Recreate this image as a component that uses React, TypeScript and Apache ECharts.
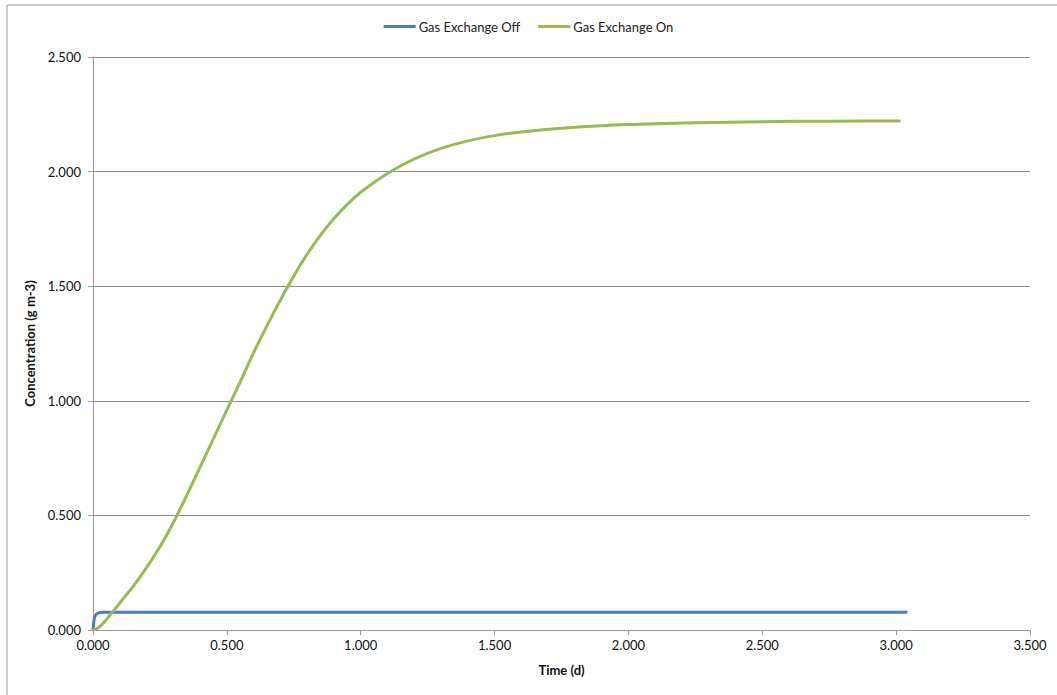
import React, { useEffect, useRef } from "react";
import * as echarts from "echarts";

// Time (d) and concentration (g m-3) for the run without gas exchange
const offTime = [0, 0.004, 0.008, 0.014, 0.02, 0.027, 0.04, 0.1, 0.5, 1.0, 1.5, 2.0, 2.5, 3.0, 3.042];
const offConc = [0, 0.045, 0.062, 0.07, 0.074, 0.076, 0.077, 0.077, 0.077, 0.077, 0.077, 0.077, 0.077, 0.077, 0.077];

// Time (d) and concentration (g m-3) for the run with gas exchange
const onTime = [
  0, 0.02, 0.04, 0.06, 0.1, 0.15, 0.2, 0.25, 0.3, 0.35, 0.4, 0.45, 0.5, 0.55, 0.6, 0.65, 0.7, 0.75, 0.8,
  0.85, 0.9, 0.95, 1.0, 1.1, 1.2, 1.3, 1.4, 1.5, 1.6, 1.8, 2.0, 2.25, 2.5, 2.75, 3.016,
];
const onConc = [
  0, 0.01, 0.032, 0.06, 0.118, 0.19, 0.272, 0.363, 0.468, 0.587, 0.711, 0.835, 0.96, 1.083, 1.21, 1.328, 1.44,
  1.545, 1.64, 1.723, 1.795, 1.857, 1.91, 1.992, 2.055, 2.101, 2.134, 2.157, 2.173, 2.193, 2.205, 2.213,
  2.218, 2.22, 2.221,
];

const seriesNames = ["Gas Exchange Off", "Gas Exchange On"];
const seriesColors = ["#4A7EBB", "#98B954"];

const xTitle = "Time (d)";
const yTitle = "Concentration (g m-3)";

const FONT = "Lato, 'Open Sans', sans-serif";

export default function App() {
  const ref = useRef<HTMLDivElement>(null);

  useEffect(() => {
    if (!ref.current) return;
    const chart = echarts.init(ref.current, null, { renderer: "svg" });
    const pair = (t: number[], v: number[]) => t.map((x, i) => [x, v[i]]);
    const fmt = (v: number) => v.toFixed(3);

    chart.setOption({
      animation: false,
      backgroundColor: "#ffffff",
      textStyle: { fontFamily: FONT },
      graphic: [
        {
          type: "rect",
          shape: { x: 7, y: 5, width: 1200, height: 900 },
          style: { fill: "none", stroke: "#9a9a9a", lineWidth: 1 },
          silent: true,
        },
      ],
      legend: {
        top: 15,
        left: "center",
        icon: "rect",
        itemWidth: 32,
        itemHeight: 3,
        itemGap: 18,
        textStyle: { fontSize: 13, color: "#222", fontFamily: FONT, padding: [0, 0, 0, -2] },
        data: seriesNames,
      },
      grid: { left: 93, right: 27, top: 57, bottom: 65, containLabel: false },
      xAxis: {
        type: "value",
        min: 0,
        max: 3.5,
        interval: 0.5,
        name: xTitle,
        nameLocation: "middle",
        nameGap: 33,
        nameTextStyle: { fontSize: 13, fontWeight: "bold", color: "#111", fontFamily: FONT },
        axisLine: { show: true, lineStyle: { color: "#9a9a9a", width: 1 } },
        axisTick: { show: true, length: 5, inside: false, lineStyle: { color: "#9a9a9a" } },
        axisLabel: { formatter: fmt, fontSize: 13, color: "#111", margin: 8, fontFamily: FONT },
        splitLine: { show: false },
      },
      yAxis: {
        type: "value",
        min: 0,
        max: 2.5,
        interval: 0.5,
        name: yTitle,
        nameLocation: "middle",
        nameGap: 51,
        nameRotate: 90,
        nameTextStyle: { fontSize: 13, fontWeight: "bold", color: "#111", fontFamily: FONT },
        axisLine: { show: true, lineStyle: { color: "#9a9a9a", width: 1 } },
        axisTick: { show: true, length: 5, inside: false, lineStyle: { color: "#9a9a9a" } },
        axisLabel: { formatter: fmt, fontSize: 13, color: "#111", margin: 12, fontFamily: FONT },
        splitLine: { show: true, lineStyle: { color: "#8c8c8c", width: 1 } },
      },
      series: [
        {
          name: seriesNames[0],
          type: "line",
          data: pair(offTime, offConc),
          showSymbol: false,
          symbol: "none",
          smooth: 0.3,
          lineStyle: { color: seriesColors[0], width: 3 },
          itemStyle: { color: seriesColors[0] },
          z: 2,
        },
        {
          name: seriesNames[1],
          type: "line",
          data: pair(onTime, onConc),
          showSymbol: false,
          symbol: "none",
          smooth: 0.3,
          lineStyle: { color: seriesColors[1], width: 3 },
          itemStyle: { color: seriesColors[1] },
          z: 3,
        },
      ],
    });

    return () => chart.dispose();
  }, []);

  return (
    <div
      ref={ref}
      style={{ position: "fixed", left: 0, top: 0, width: 1057, height: 695 }}
    />
  );
}
